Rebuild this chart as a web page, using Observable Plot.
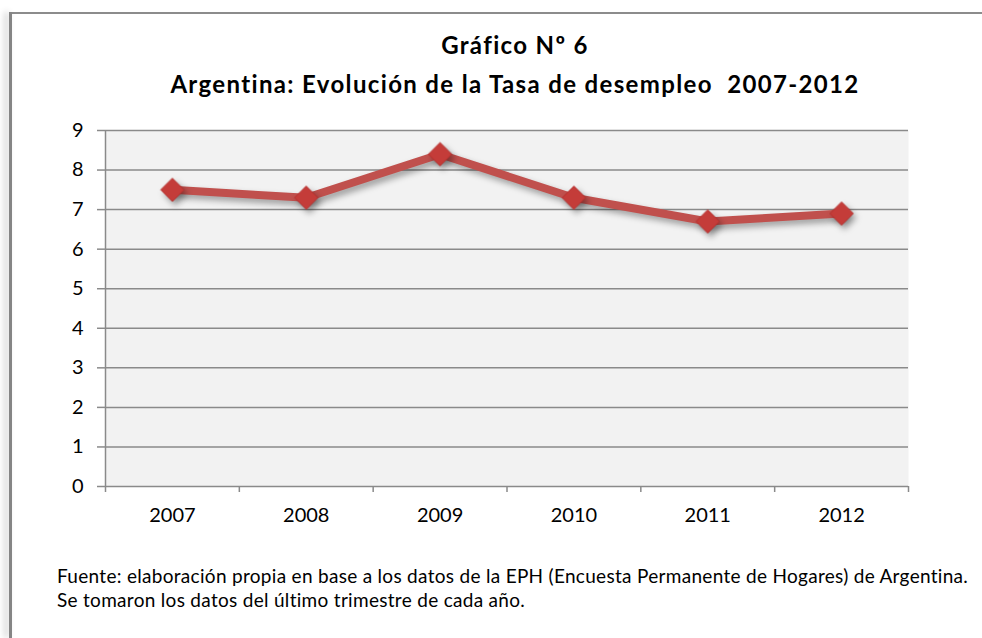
<!DOCTYPE html>
<html>
<head>
<meta charset="utf-8">
<script src="https://cdn.jsdelivr.net/npm/d3@7"></script>
<script src="https://cdn.jsdelivr.net/npm/@observablehq/plot@0.6"></script>
<style>
  html, body { margin: 0; padding: 0; background: #fff; overflow: hidden; }
  #wrap { position: relative; width: 982px; height: 638px; overflow: hidden; background: #fff; font-family: Lato, "Open Sans", sans-serif; }
  #topline { position: absolute; left: 9px; top: 12px; width: 973px; height: 2px; background: #8c8c8c; }
  #leftline { position: absolute; left: 9px; top: 12px; width: 3px; height: 626px; background: #858585;
              box-shadow: -4px 0 6px rgba(0,0,0,0.25); }
  #title { position: absolute; left: 0; top: 25px; width: 1030px; text-align: center;
           font-weight: bold; font-size: 24px; letter-spacing: 1.35px; line-height: 39px; color: #000; }
  #chart { position: absolute; left: 0; top: 0; }
  #caption { position: absolute; left: 57px; top: 564px; font-size: 19px; letter-spacing: 0.3px; line-height: 24px; color: #000; white-space: nowrap; }
  svg g[aria-label="line"], svg g[aria-label="dot"] { filter: drop-shadow(3px 4px 3px rgba(0,0,0,0.35)); }
</style>
</head>
<body>
<div id="wrap">
  <div id="topline"></div>
  <div id="leftline"></div>
  <div id="title">Gráfico Nº 6<br>Argentina: Evolución de la Tasa de desempleo&nbsp; 2007-2012</div>
  <div id="chart"></div>
  <div id="caption">Fuente: elaboración propia en base a los datos de la EPH (Encuesta Permanente de Hogares) de Argentina.<br>Se tomaron los datos del último trimestre de cada año.</div>
</div>
<script>
const years = ["2007", "2008", "2009", "2010", "2011", "2012"];
const rates = [7.5, 7.3, 8.4, 7.3, 6.7, 6.9];
const yTicks = [0, 1, 2, 3, 4, 5, 6, 7, 8, 9];

const data = years.map((y, i) => ({year: y, pos: i + 0.5, rate: rates[i]}));
const boundaries = d3.range(years.length + 1);

const chart = Plot.plot({
  width: 982,
  height: 540,
  marginTop: 130,
  marginBottom: 54,
  marginLeft: 105,
  marginRight: 74,
  style: {fontFamily: "Lato, 'Open Sans', sans-serif", fontSize: "20px", color: "#000", background: "transparent"},
  x: {domain: [0, years.length]},
  y: {domain: [0, 9]},
  marks: [
    Plot.frame({fill: "#f2f2f2", stroke: null}),
    Plot.ruleY(yTicks, {stroke: "#8a8a8a", strokeWidth: 1.5}),
    Plot.ruleX([0], {stroke: "#8a8a8a", strokeWidth: 1.5}),
    Plot.axisY({ticks: yTicks, tickSize: 8, tickPadding: 14, stroke: "#8a8a8a", strokeWidth: 1.5, fill: "#000", label: null, tickFormat: d => String(d)}),
    Plot.axisX({ticks: boundaries, tickSize: 6, stroke: "#8a8a8a", strokeWidth: 1.5, tickFormat: () => "", label: null}),
    Plot.axisX({ticks: data.map(d => d.pos), tickSize: 0, tickPadding: 21, fill: "#000", tickFormat: (d) => years[Math.round(d - 0.5)], label: null}),
    Plot.line(data, {x: "pos", y: "rate", stroke: "#c0504d", strokeWidth: 8, strokeLinejoin: "round"}),
    Plot.dot(data, {x: "pos", y: "rate", symbol: "diamond2", r: 10.5, fill: "#c43c39", stroke: "#b5302e", strokeWidth: 1})
  ]
});
document.getElementById("chart").appendChild(chart);
</script>
</body>
</html>
